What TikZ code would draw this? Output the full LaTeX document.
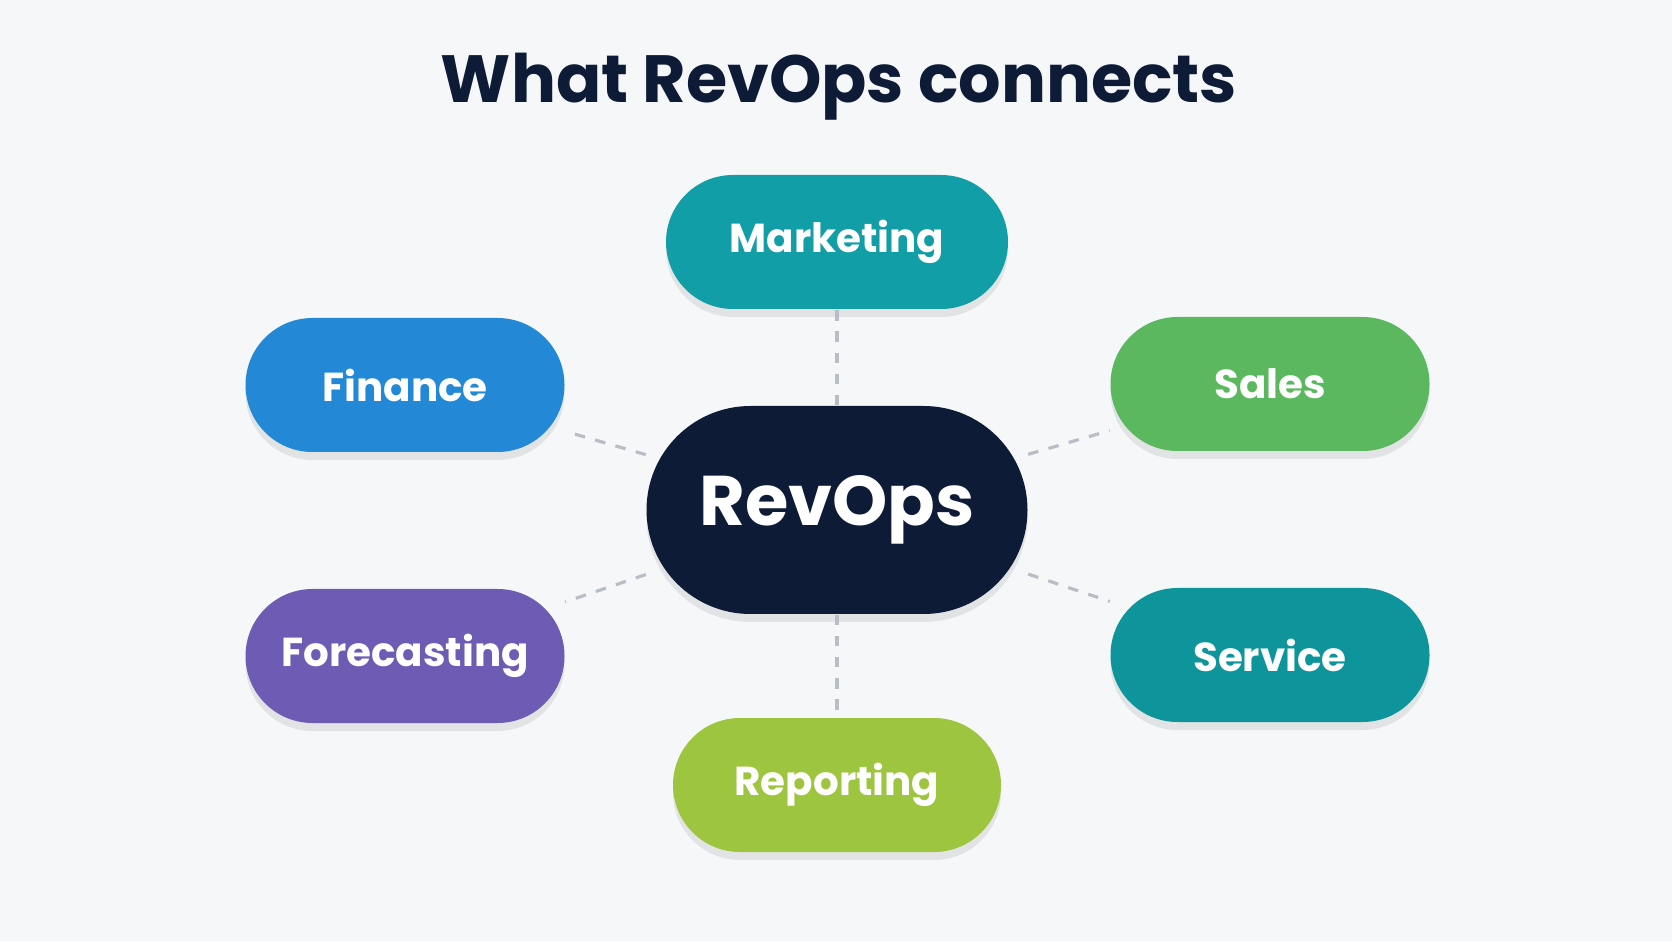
\documentclass[tikz,border=0pt]{standalone}
\usepackage{fontspec}
\setmainfont{Poppins}
\usetikzlibrary{shadows}
\definecolor{bgcol}{HTML}{F5F7F8}
\definecolor{navy}{HTML}{0D1B36}
\definecolor{mktcol}{HTML}{129EA6}
\definecolor{fincol}{HTML}{2389D6}
\definecolor{salcol}{HTML}{5BB85E}
\definecolor{fcscol}{HTML}{6E5BB4}
\definecolor{svccol}{HTML}{0E949B}
\definecolor{repcol}{HTML}{9EC53F}
\definecolor{linkcol}{HTML}{B8BEC6}
\tikzset{
  pill/.style={rectangle, rounded corners=6.7mm, minimum width=3.2cm, minimum height=1.34cm,
    fill=#1, text=white, font=\bfseries\fontsize{11.5}{13}\selectfont,
    drop shadow={shadow xshift=0mm, shadow yshift=-0.8mm, fill=black, opacity=0.08}},
  link/.style={draw=linkcol, dashed, line width=0.9pt}
}
\begin{document}
\begin{tikzpicture}
\fill[bgcol] (0,0) rectangle (16.72,9.41);
\useasboundingbox (0,0) rectangle (16.72,9.41);

% Title
\node[text=navy, font=\bfseries\fontsize{19}{22}\selectfont] (title) at (8.39,8.54) {What RevOps connects};

% Hub
\node[pill=navy, rounded corners=10.4mm, minimum width=3.81cm, minimum height=2.08cm,
  font=\bfseries\fontsize{20}{24}\selectfont] (hub) at (8.37,4.31) {RevOps};

% Satellites
\node[pill=mktcol, minimum width=3.42cm] (mkt) at (8.37,6.99) {Marketing};
\node[pill=fincol, minimum width=3.19cm] (fin) at (4.05,5.56) {Finance};
\node[pill=salcol, minimum width=3.19cm] (sal) at (12.70,5.57) {Sales};
\node[pill=fcscol, minimum width=3.19cm] (fcs) at (4.05,2.85) {Forecasting};
\node[pill=svccol, minimum width=3.19cm] (svc) at (12.70,2.86) {Service};
\node[pill=repcol, minimum width=3.28cm] (rep) at (8.37,1.56) {Reporting};

% Links
\begin{scope}[on background layer/.try]
\foreach \n in {mkt,fin,sal,fcs,svc,rep}
  \draw[link] (hub) -- (\n);
\end{scope}
\end{tikzpicture}
\end{document}
